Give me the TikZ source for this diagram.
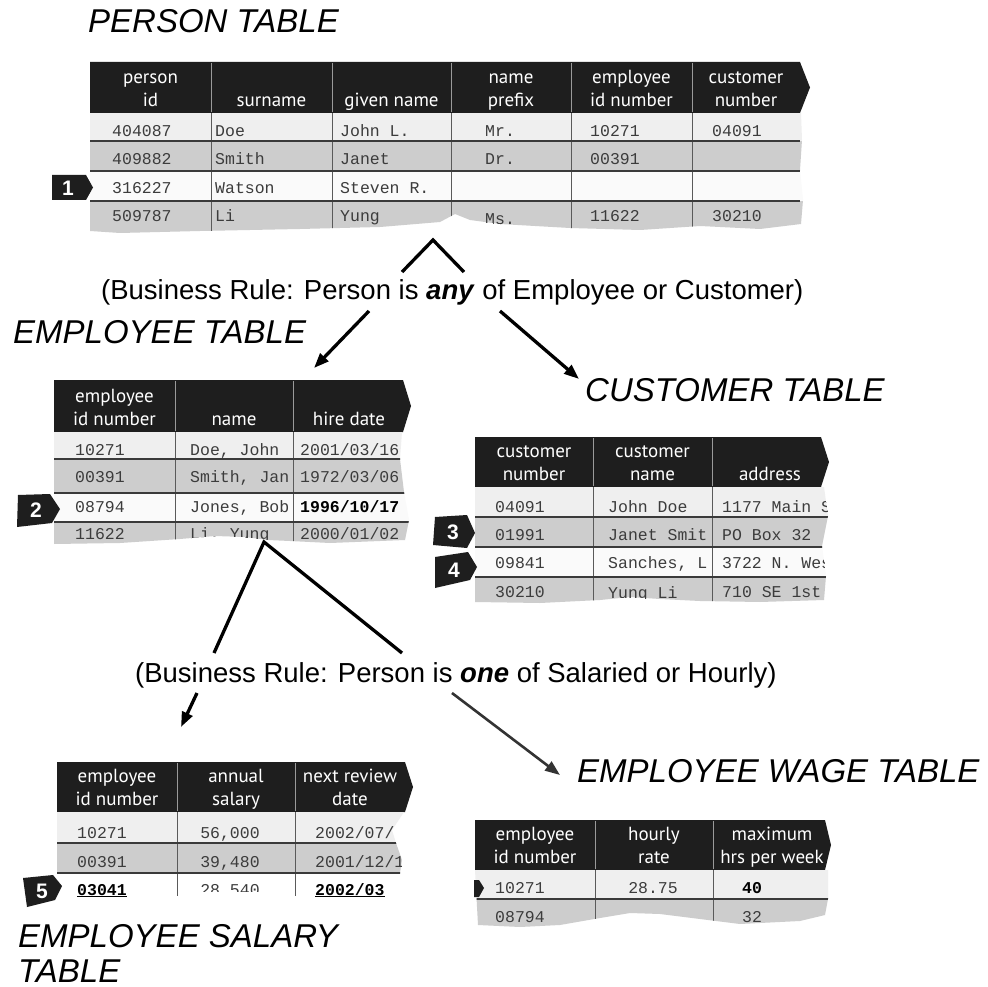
\documentclass[tikz,border=0pt]{standalone}
\usepackage{fontspec}
\setmainfont{Liberation Sans}
\newfontfamily\hdrfont{PT Sans}
\newfontfamily\cellfont{Liberation Mono}
\usetikzlibrary{arrows.meta}
\definecolor{hdr}{HTML}{1E1E1E}
\definecolor{rowlight}{HTML}{EFEFEF}
\definecolor{rowwhite}{HTML}{FAFAFA}
\definecolor{rowgray}{HTML}{CDCDCD}
\definecolor{sepcol}{HTML}{3A3A3A}
\definecolor{colcol}{HTML}{5A5A5A}
\definecolor{celltext}{HTML}{3C3C3C}
\definecolor{hdrsep}{HTML}{9A9A9A}
\tikzset{
  hdrtext/.style={font=\hdrfont\fontsize{19}{23}\selectfont, text=white, align=center, anchor=south, inner sep=0pt},
  cell/.style={font=\cellfont\fontsize{16.5}{18}\selectfont, text=celltext, anchor=base west, inner sep=0pt},
  cellc/.style={cell, anchor=base},
  boldcell/.style={cell, text=black, font=\cellfont\bfseries\fontsize{16.5}{18}\selectfont},
  tabtitle/.style={font=\itshape\fontsize{33}{36}\selectfont, anchor=base west, inner sep=0pt},
  ruletext/.style={font=\fontsize{27.5}{30}\selectfont, anchor=base west, inner sep=0pt},
  conn/.style={line width=3.3pt, black},
  arr/.style={conn, -{Triangle[length=15pt,width=11pt]}},
  hdrsepline/.style={hdrsep, line width=1pt},
  colline/.style={colcol, line width=0.9pt},
  sepline/.style={sepcol, line width=2.4pt},
  badgefill/.style={fill=hdr},
  badgetext/.style={font=\bfseries\fontsize{21}{24}\selectfont, text=white, inner sep=0pt},
}
\begin{document}
\begin{tikzpicture}[x=1pt,y=-1pt]
\useasboundingbox[fill=white] (0,0) rectangle (988,987);

%================ connectors (drawn first) ================
\coordinate (c1l) at (402,272);
\coordinate (c1a) at (433,240);
\coordinate (c1r) at (464,272);
\draw[conn, line join=miter] (c1l) -- (c1a) -- (c1r);
\coordinate (a1s) at (369,311);
\coordinate (a1e) at (314,368);
\draw[arr] (a1s) -- (a1e);
\coordinate (a2s) at (500,311);
\coordinate (a2e) at (579,379);
\draw[arr] (a2s) -- (a2e);

\coordinate (c2l) at (214,653);
\coordinate (c2a) at (264,542);
\coordinate (c2r) at (402,653);
\draw[conn, line join=miter] (c2l) -- (c2a) -- (c2r);
\coordinate (a3s) at (197,693);
\coordinate (a3e) at (181,727);
\draw[arr] (a3s) -- (a3e);
\coordinate (a4s) at (452,693);
\coordinate (a4e) at (560,775);
\draw[arr, draw=black!80, line width=2.6pt] (a4s) -- (a4e);

%================ titles and rules ================
\node[tabtitle] (tperson) at (88,33) {PERSON TABLE};
\node[tabtitle] (temp) at (13,343) {EMPLOYEE TABLE};
\node[tabtitle] (tcust) at (585,401) {CUSTOMER TABLE};
\node[tabtitle] (twage) at (577,782) {EMPLOYEE WAGE TABLE};
\node[tabtitle] (tsal1) at (18,947) {EMPLOYEE SALARY};
\node[tabtitle] (tsal2) at (18,982) {TABLE};
\node[ruletext] (rule1) at (101,299) {(Business Rule: Person is \textbf{\textit{any}} of Employee or Customer)};
\node[ruletext] (rule2) at (135,682) {(Business Rule: Person is \textbf{\textit{one}} of Salaried or Hourly)};

%================ PERSON TABLE ================
\fill[hdr] (90,62) -- (800,62) -- (810,87.5) -- (800,113) -- (90,113) -- cycle;
\foreach \x in {211,332,451,571,692} \draw[hdrsepline] (\x,63) -- (\x,112);
\node[hdrtext] (ph1) at (150.5,114) {person\\id\strut};
\node[hdrtext] (ph2) at (271.5,114) {surname\strut};
\node[hdrtext] (ph3) at (391.5,114) {given name\strut};
\node[hdrtext] (ph4) at (511,114) {name\\prefix\strut};
\node[hdrtext] (ph5) at (631.5,114) {employee\\id number\strut};
\node[hdrtext] (ph6) at (746,114) {customer\\number\strut};
\begin{scope}
\clip (90,113) -- (801,113) -- (802,140) -- (800,170) -- (803,200) -- (801,224) -- (760,229) -- (700,226) -- (640,230) -- (570,228) -- (500,224) -- (470,220) -- (455,214) -- (440,222) -- (380,227) -- (300,229) -- (200,231) -- (120,233) -- (90,231) -- cycle;
\fill[rowlight] (90,113) rectangle (810,141);
\fill[rowgray] (90,141) rectangle (810,171);
\fill[rowwhite] (90,171) rectangle (810,201);
\fill[rowgray] (90,201) rectangle (810,240);
\foreach \x in {211,332,451,571,692} \draw[colline] (\x,113) -- (\x,240);
\foreach \y in {141,171,201} \draw[sepline] (90,\y) -- (800,\y);
\node[cell] (p11) at (112,137) {404087};
\node[cell] (p12) at (215,137) {Doe};
\node[cell] (p13) at (340,137) {John L.};
\node[cell] (p14) at (485,137) {Mr.};
\node[cell] (p15) at (590,137) {10271};
\node[cell] (p16) at (712,137) {04091};
\node[cell] (p21) at (112,165) {409882};
\node[cell] (p22) at (215,165) {Smith};
\node[cell] (p23) at (340,165) {Janet};
\node[cell] (p24) at (485,165) {Dr.};
\node[cell] (p25) at (590,165) {00391};
\node[cell] (p31) at (112,194) {316227};
\node[cell] (p32) at (215,194) {Watson};
\node[cell] (p33) at (340,194) {Steven R.};
\node[cell] (p41) at (112,222) {509787};
\node[cell] (p42) at (215,222) {Li};
\node[cell] (p43) at (340,222) {Yung};
\node[cell] (p44) at (485,225) {Ms.};
\node[cell] (p45) at (590,222) {11622};
\node[cell] (p46) at (712,222) {30210};
\end{scope}
\fill[badgefill] (52,175) -- (86,175) -- (93,187.5) -- (86,200) -- (52,200) -- cycle;
\node[badgetext] (b1) at (68,188) {1};

%================ EMPLOYEE TABLE ================
\fill[hdr] (54,380) -- (403,380) -- (411,406) -- (403,432) -- (54,432) -- cycle;
\foreach \x in {175,293} \draw[hdrsepline] (\x,381) -- (\x,431);
\node[hdrtext] (eh1) at (114.5,433) {employee\\id number\strut};
\node[hdrtext] (eh2) at (234,433) {name\strut};
\node[hdrtext] (eh3) at (349,433) {hire date\strut};
\begin{scope}
\clip (54,432) -- (402,432) -- (400,459) -- (404,492) -- (409,520) -- (405,540) -- (330,543) -- (290,541) -- (268,540) -- (245,537) -- (215,536) -- (180,539) -- (120,543) -- (54,544) -- cycle;
\fill[rowlight] (54,432) rectangle (415,459);
\fill[rowgray] (54,459) rectangle (415,493);
\fill[rowwhite] (54,493) rectangle (415,522);
\fill[rowgray] (54,522) rectangle (415,550);
\foreach \x in {175,293} \draw[colline] (\x,432) -- (\x,550);
\foreach \y in {459,493,522} \draw[sepline] (54,\y) -- (410,\y);
\node[cell] (e11) at (75,455) {10271};
\node[cell] (e12) at (190,455) {Doe, John};
\node[cell] (e13) at (300,455) {2001/03/16};
\node[cell] (e21) at (75,482) {00391};
\node[cell] (e22) at (190,482) {Smith, Jan};
\node[cell] (e23) at (300,482) {1972/03/06};
\node[cell] (e31) at (75,512) {08794};
\node[cell] (e32) at (190,512) {Jones, Bob};
\node[boldcell] (e33) at (300,512) {1996/10/17};
\node[cell] (e41) at (75,539) {11622};
\node[cell] (e42) at (190,539) {Li, Yung};
\node[cell] (e43) at (300,539) {2000/01/02};
\end{scope}
\fill[badgefill] (18,495) -- (50,494) -- (60,509) -- (52,523) -- (17,527) -- cycle;
\node[badgetext] (b2) at (36,510) {2};

%================ CUSTOMER TABLE ================
\fill[hdr] (475,437) -- (821,437) -- (829,462) -- (821,487) -- (475,487) -- cycle;
\foreach \x in {593,712} \draw[hdrsepline] (\x,438) -- (\x,486);
\node[hdrtext] (ch1) at (534,488) {customer\\number\strut};
\node[hdrtext] (ch2) at (652.5,488) {customer\\name\strut};
\node[hdrtext] (ch3) at (770,488) {address\strut};
\begin{scope}
\clip (475,487) -- (824,487) -- (828,516) -- (822,546) -- (826,576) -- (824,600) -- (760,602) -- (700,601) -- (660,599) -- (630,597) -- (600,600) -- (540,603) -- (475,602) -- cycle;
\fill[rowlight] (475,487) rectangle (835,517);
\fill[rowgray] (475,517) rectangle (835,547);
\fill[rowwhite] (475,547) rectangle (835,577);
\fill[rowgray] (475,577) rectangle (835,610);
\foreach \x in {593,712} \draw[colline] (\x,487) -- (\x,610);
\foreach \y in {517,547,577} \draw[sepline] (475,\y) -- (830,\y);
\node[cell] (c11) at (495,512) {04091};
\node[cell] (c12) at (608,512) {John Doe};
\node[cell] (c13) at (722,512) {1177 Main St};
\node[cell] (c21) at (495,540) {01991};
\node[cell] (c22) at (608,540) {Janet Smit};
\node[cell] (c23) at (722,540) {PO Box 32};
\node[cell] (c31) at (495,568) {09841};
\node[cell] (c32) at (608,568) {Sanches, L};
\node[cell] (c33) at (722,568) {3722 N. West};
\node[cell] (c41) at (495,597) {30210};
\node[cell] (c42) at (608,598) {Yung Li};
\node[cell] (c43) at (722,597) {710 SE 1st};
\end{scope}
\fill[badgefill] (435,517) -- (467,515) -- (475,533) -- (467,548) -- (433,545) -- cycle;
\node[badgetext] (b3) at (453,532) {3};
\fill[badgefill] (435,557) -- (468,552) -- (477,567) -- (470,580) -- (435,588) -- cycle;
\node[badgetext] (b4) at (454,570) {4};

%================ EMPLOYEE SALARY TABLE ================
\fill[hdr] (57,762) -- (405,762) -- (413,787) -- (405,812) -- (57,812) -- cycle;
\foreach \x in {177,295} \draw[hdrsepline] (\x,763) -- (\x,811);
\node[hdrtext] (sh1) at (117,813) {employee\\id number\strut};
\node[hdrtext] (sh2) at (236,813) {annual\\salary\strut};
\node[hdrtext] (sh3) at (350,813) {next review\\date\strut};
\begin{scope}
\clip (57,812) -- (404,812) -- (392,830) -- (396,843) -- (402,860) -- (400,873) -- (400,900) -- (57,900) -- cycle;
\fill[rowlight] (57,812) rectangle (410,843);
\fill[rowgray] (57,843) rectangle (410,873);
\foreach \x in {177,295} \draw[colline] (\x,812) -- (\x,896);
\foreach \y in {843,873} \draw[sepline] (57,\y) -- (405,\y);
\node[cell] (s11) at (77,838) {10271};
\node[cellc] (s12) at (230,838) {56,000};
\node[cell] (s13) at (315,838) {2002/07/01};
\node[cell] (s21) at (77,867) {00391};
\node[cellc] (s22) at (230,867) {39,480};
\node[cell] (s23) at (315,867) {2001/12/15};
\end{scope}
\node[boldcell] (s31) at (77,895) {\underline{03041}};
\begin{scope}
\clip (180,870) rectangle (290,891);
\node[cellc] (s32) at (230,895) {28,540};
\end{scope}
\node[boldcell] (s33) at (315,895) {\underline{2002/03}};
\fill[badgefill] (23,878) -- (53,875) -- (62,886) -- (55,900) -- (27,907) -- cycle;
\node[badgetext] (b5) at (42,891) {5};

%================ EMPLOYEE WAGE TABLE ================
\fill[hdr] (475,820) -- (825,820) -- (831,845) -- (825,870) -- (475,870) -- cycle;
\foreach \x in {595,713} \draw[hdrsepline] (\x,821) -- (\x,869);
\begin{scope}
\clip (475,820) -- (825,820) -- (831,845) -- (825,870) -- (475,870) -- cycle;
\node[hdrtext] (wh1) at (535,871) {employee\\id number\strut};
\node[hdrtext] (wh2) at (654,871) {hourly\\rate\strut};
\node[hdrtext] (wh3) at (772,871) {maximum\\hrs per week\strut};
\end{scope}
\begin{scope}
\clip (475,870) -- (828,870) -- (828,899) -- (825,915) -- (800,921) -- (740,924) -- (700,919) -- (660,914) -- (630,913) -- (600,918) -- (560,925) -- (520,927) -- (478,925) -- cycle;
\fill[rowlight] (475,870) rectangle (835,899);
\fill[rowgray] (475,899) rectangle (835,935);
\foreach \x in {595,713} \draw[colline] (\x,870) -- (\x,935);
\draw[sepline] (475,899) -- (830,899);
\node[cell] (w11) at (495,893) {10271};
\node[cellc] (w12) at (653,893) {28.75};
\node[boldcell] (w13) at (742,893) {40};
\node[cell] (w21) at (495,922) {08794};
\node[cell] (w23) at (742,922) {32};
\end{scope}
\fill[badgefill] (474,880) -- (479,880) -- (484,888) -- (479,897) -- (474,897) -- cycle;

\end{tikzpicture}
\end{document}
